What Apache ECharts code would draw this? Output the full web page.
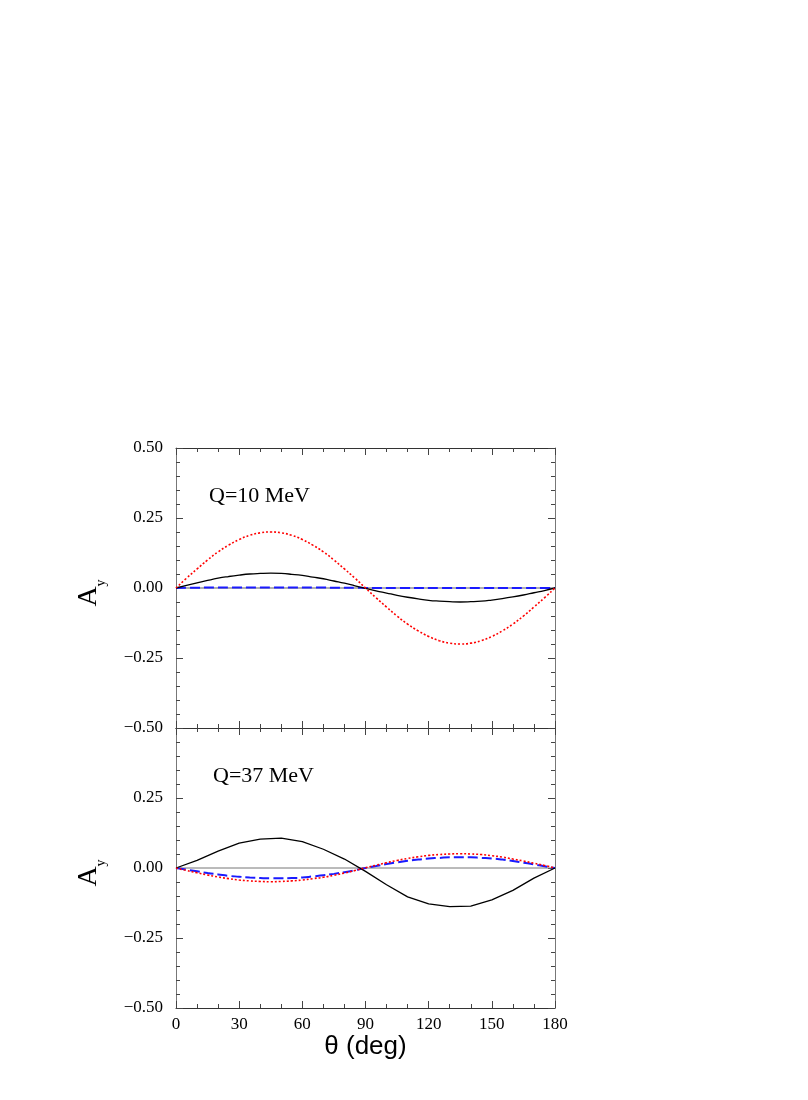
<!DOCTYPE html>
<html>
<head>
<meta charset="utf-8">
<script src="https://cdn.jsdelivr.net/npm/echarts@6/dist/echarts.min.js"></script>
<style>html,body{margin:0;padding:0;background:#fff;}#c{width:808px;height:1100px;}</style>
</head>
<body>
<div id="c"></div>
<script>
// angles (deg)
const theta5  = [0,5,10,15,20,25,30,35,40,45,50,55,60,65,70,75,80,85,90,95,100,105,110,115,120,125,130,135,140,145,150,155,160,165,170,175,180];
const theta10 = [0,10,20,30,40,50,60,70,80,90,100,110,120,130,140,150,160,170,180];
// Q = 10 MeV panel (5 deg steps)
const q10Solid  = [0,0.009,0.018,0.027,0.035,0.041,0.046,0.050,0.052,0.053,0.052,0.049,0.045,0.039,0.033,0.025,0.017,0.008,-0.001,-0.010,-0.018,-0.026,-0.033,-0.039,-0.044,-0.047,-0.049,-0.050,-0.049,-0.047,-0.043,-0.038,-0.032,-0.025,-0.017,-0.009,0];
const q10Dotted = [0,0.035,0.068,0.100,0.129,0.153,0.173,0.188,0.197,0.200,0.197,0.188,0.173,0.153,0.129,0.100,0.068,0.035,0.000,-0.035,-0.068,-0.100,-0.129,-0.153,-0.173,-0.188,-0.197,-0.200,-0.197,-0.188,-0.173,-0.153,-0.129,-0.100,-0.068,-0.035,0];
const q10Dashed = [0,0.001,0.001,0.002,0.002,0.002,0.002,0.002,0.002,0.002,0.002,0.002,0.002,0.002,0.002,0.001,0.001,0.001,0.000,0.000,0.000,0.000,0.000,0.000,0.000,0.000,0.000,0.000,0.000,0.000,0.000,0.000,0.000,0.000,0.000,0.000,0];
// Q = 37 MeV panel
const q37Solid  = [0,0.027,0.060,0.089,0.103,0.107,0.094,0.067,0.032,-0.012,-0.060,-0.103,-0.128,-0.138,-0.136,-0.114,-0.080,-0.036,0]; // 10 deg steps
const q37Dotted = [0,-0.009,-0.017,-0.025,-0.032,-0.038,-0.043,-0.046,-0.048,-0.049,-0.048,-0.046,-0.043,-0.038,-0.033,-0.026,-0.018,-0.009,0.001,0.010,0.019,0.027,0.034,0.040,0.045,0.048,0.050,0.051,0.050,0.048,0.044,0.039,0.032,0.025,0.017,0.009,0];
const q37Dashed = [0,-0.006,-0.012,-0.018,-0.023,-0.028,-0.031,-0.034,-0.036,-0.037,-0.037,-0.036,-0.034,-0.030,-0.026,-0.021,-0.015,-0.008,0.000,0.007,0.014,0.020,0.026,0.030,0.034,0.036,0.038,0.038,0.038,0.036,0.034,0.030,0.025,0.019,0.013,0.006,0];
// zero reference lines
const zeroX = [0,180];
const zeroY = [0,0];
// tick labels
const xTicks = [0,30,60,90,120,150,180];
const yTicks = [-0.5,-0.25,0,0.25,0.5];
const panelLabels = ['Q=10 MeV','Q=37 MeV'];

const pair = (xs, ys) => xs.map((x,i)=>[x, ys[i]]);
const serif = 'Liberation Serif';
const yFmt = v => {
  const m = yTicks.find(t => Math.abs(t - v) < 1e-9);
  if (m === undefined) return '';
  return (m < 0 ? '\u2212' : '') + Math.abs(m).toFixed(2);
};
const xFmt = v => xTicks.indexOf(Math.round(v)) >= 0 ? String(Math.round(v)) : '';

function xAx(grid, pos, showLabels, name) {
  return {
    type:'value', gridIndex:grid, position:pos, min:0, max:180, interval:30,
    axisLine:{show:true, onZero:false, lineStyle:{color:'#333', width:1}},
    axisTick:{show:true, inside:true, length:7, lineStyle:{color:'#444', width:1}},
    minorTick:{show:true, splitNumber:3, length:4, lineStyle:{color:'#444', width:1}},
    splitLine:{show:false}, minorSplitLine:{show:false},
    axisLabel:{show:showLabels, formatter:xFmt, fontFamily:serif, fontSize:17, color:'#000', margin:8},
    name: name || '', nameLocation:'middle', nameGap:21,
    nameTextStyle:{fontFamily:'Liberation Sans', fontSize:26, color:'#000'}
  };
}
function yAx(grid, pos, showLabels, showMax, name) {
  return {
    type:'value', gridIndex:grid, position:pos, min:-0.5, max:0.5, interval:0.25,
    axisLine:{show:true, onZero:false, lineStyle:{color:'#777', width:1}},
    axisTick:{show:true, inside:true, length:7, lineStyle:{color:'#444', width:1}},
    minorTick:{show:true, splitNumber:5, length:4, lineStyle:{color:'#444', width:1}},
    splitLine:{show:false}, minorSplitLine:{show:false},
    axisLabel:{show:showLabels, showMaxLabel:showMax, formatter:yFmt, fontFamily:serif, fontSize:17, color:'#000', margin:13},
    name: name || '', nameLocation:'middle', nameGap:68, nameRotate:90,
    nameTextStyle:{
      padding:[0,10,0,0],
      rich:{
        a:{fontFamily:serif, fontSize:28, color:'#000', lineHeight:28, verticalAlign:'top'},
        b:{fontFamily:serif, fontSize:14, color:'#000', lineHeight:33, verticalAlign:'bottom'}
      }
    }
  };
}

const solid  = {color:'#000', width:1.3, type:'solid'};
const dotted = {color:'#ff0000', width:1.6, type:[2,2]};
const dashed = {color:'#1a1aff', width:2, type:[10,4]};

function ser(data, xi, yi, style, smooth, z) {
  return {type:'line', xAxisIndex:xi, yAxisIndex:yi, data:data, showSymbol:false, symbol:'none',
          smooth:smooth, lineStyle:style, silent:true, animation:false, z:z};
}

const chart = echarts.init(document.getElementById('c'), null, {renderer:'canvas'});
chart.setOption({
  backgroundColor:'#fff',
  animation:false,
  grid:[
    {left:176, width:379, top:448, height:280},
    {left:176, width:379, top:728, height:280}
  ],
  xAxis:[
    xAx(0,'bottom',false),
    xAx(0,'top',false),
    xAx(1,'bottom',true,'\u03b8 (deg)'),
    xAx(1,'top',false)
  ],
  yAxis:[
    yAx(0,'left',true,true,'{a|A}{b|y}'),
    yAx(0,'right',false,true),
    yAx(1,'left',true,false,'{a|A}{b|y}'),
    yAx(1,'right',false,true)
  ],
  series:[
    ser(pair(zeroX,zeroY),0,0,{color:'#b0b0b0', width:2},false,1),
    ser(pair(theta5,q10Dashed),0,0,dashed,true,3),
    ser(pair(theta5,q10Solid),0,0,solid,true,4),
    ser(pair(theta5,q10Dotted),0,0,dotted,true,5),
    ser(pair(zeroX,zeroY),2,2,{color:'#777', width:1},false,1),
    ser(pair(theta5,q37Dashed),2,2,dashed,true,3),
    ser(pair(theta10,q37Solid),2,2,solid,false,4),
    ser(pair(theta5,q37Dotted),2,2,dotted,true,5)
  ],
  graphic:[
    {type:'text', left:209, top:485, style:{text:panelLabels[0], font:'22px "Liberation Serif"', fill:'#000'}},
    {type:'text', left:213, top:765, style:{text:panelLabels[1], font:'22px "Liberation Serif"', fill:'#000'}}
  ]
});
</script>
</body>
</html>
